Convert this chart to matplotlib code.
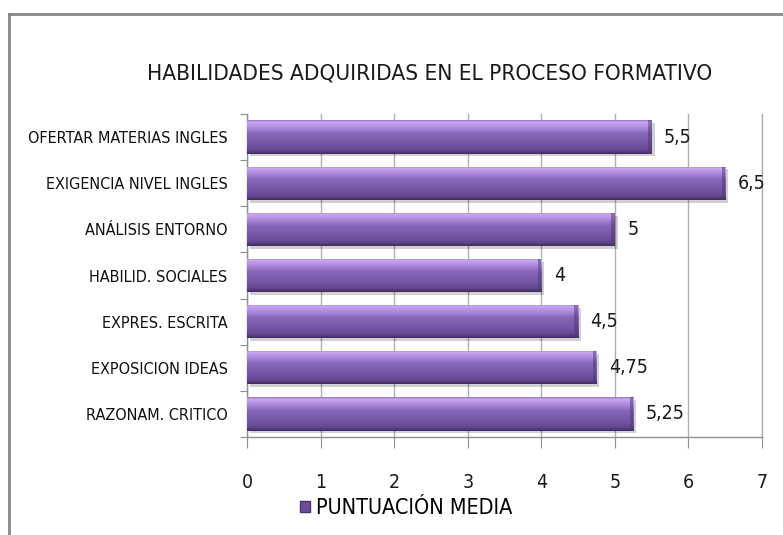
import matplotlib.pyplot as plt
import numpy as np
from matplotlib.colors import LinearSegmentedColormap
from matplotlib.lines import Line2D
from matplotlib.patches import Rectangle

plt.rcParams["font.family"] = ["DejaVu Sans"]
plt.rcParams["font.stretch"] = "condensed"

TITLE = "HABILIDADES ADQUIRIDAS EN EL PROCESO FORMATIVO"
SERIES_NAME = "PUNTUACIÓN MEDIA"
categories = [
    "OFERTAR MATERIAS INGLES",
    "EXIGENCIA NIVEL INGLES",
    "ANÁLISIS ENTORNO",
    "HABILID. SOCIALES",
    "EXPRES. ESCRITA",
    "EXPOSICION IDEAS",
    "RAZONAM. CRITICO",
]
values = [5.5, 6.5, 5, 4, 4.5, 4.75, 5.25]
x_ticks = [0, 1, 2, 3, 4, 5, 6, 7]

W, H = 783, 535
bar_cmap = LinearSegmentedColormap.from_list(
    "bar",
    [(0.0, "#9274c2"), (0.06, "#c8a8f0"), (0.2, "#b08ee0"), (0.4, "#8666b8"),
     (0.75, "#7253a2"), (0.9, "#60448c"), (1.0, "#3e2b5c")],
)


def fmt(v):
    s = f"{v:g}"
    return s.replace(".", ",")


def main():
    fig = plt.figure(figsize=(W / 100, H / 100), dpi=100)
    ax = fig.add_axes([247 / W, 1 - 437 / H, (762 - 247) / W, (437 - 114) / H])

    # outer chart frame (cropped on right and bottom)
    fig.add_artist(Line2D([9 / W, 1.01], [1 - 13.5 / H] * 2, color="#878787", lw=2.0,
                          transform=fig.transFigure))
    fig.add_artist(Line2D([9 / W] * 2, [-0.01, 1 - 13.5 / H], color="#878787", lw=2.0,
                          transform=fig.transFigure))

    n = len(categories)
    pos = np.arange(n)[::-1]
    height = 0.72

    # shadows
    ax.barh(pos - 0.06, values, height=height, left=0.04, color="#000000", alpha=0.18,
            zorder=2, linewidth=0)
    bars = ax.barh(pos, values, height=height, color="#7656a6", zorder=3, linewidth=0,
                   label=SERIES_NAME)
    grad = np.linspace(0, 1, 256).reshape(-1, 1)
    for b in bars:
        x0, y0 = b.get_x(), b.get_y()
        w, h = b.get_width(), b.get_height()
        im = ax.imshow(grad, cmap=bar_cmap, aspect="auto", extent=(x0, x0 + w, y0, y0 + h),
                       origin="upper", zorder=4)
        im.set_clip_path(b)
        # bevel at right end
        ax.add_patch(Rectangle((x0 + w - 0.05, y0), 0.05, h, color="#4e3873", alpha=0.5,
                               zorder=5, linewidth=0))

    for p, v in zip(pos, values):
        ax.text(v + 0.17, p, fmt(v), va="center", ha="left", fontsize=14, color="#1a1a1a")

    ax.set_xlim(0, 7)
    ax.set_ylim(-0.5, n - 0.5)
    ax.set_xticks(x_ticks)
    ax.set_xticklabels([str(t) for t in x_ticks], fontsize=14)
    ax.xaxis.grid(True, color="#b0b0b0", lw=1.0, zorder=0)
    ax.set_axisbelow(True)
    ax.axvline(7, color="#b0b0b0", lw=1.0, zorder=0, clip_on=False)

    ax.set_yticks(np.arange(n + 1) - 0.5)
    ax.set_yticklabels([])
    ax.set_yticks(pos, minor=True)
    ax.set_yticklabels(categories, minor=True, fontsize=11.6, color="#111111")
    ax.tick_params(axis="y", which="minor", length=0, pad=14)
    ax.tick_params(axis="y", which="major", length=5, color="#909090", direction="out")
    ax.tick_params(axis="x", length=8, color="#909090", pad=18, labelcolor="#1a1a1a")

    for s in ["top", "right"]:
        ax.spines[s].set_visible(False)
    for s in ["left", "bottom"]:
        ax.spines[s].set_color("#909090")
        ax.spines[s].set_linewidth(1.0)

    fig.text(429.5 / W, 1 - 73 / H, TITLE, ha="center", va="center", fontsize=16.2,
             color="#1a1a1a")

    handle = Rectangle((0, 0), 1, 1, facecolor="#6c4f9c", edgecolor="#4a3470")
    fig.legend([handle], [SERIES_NAME], loc="center left",
               bbox_to_anchor=(300 / W, 1 - 508 / H), frameon=False, fontsize=15.5,
               handlelength=0.45, handleheight=0.45, handletextpad=0.3, borderpad=0,
               borderaxespad=0)

    fig.savefig("out.png", dpi=100)


if __name__ == "__main__":
    main()
